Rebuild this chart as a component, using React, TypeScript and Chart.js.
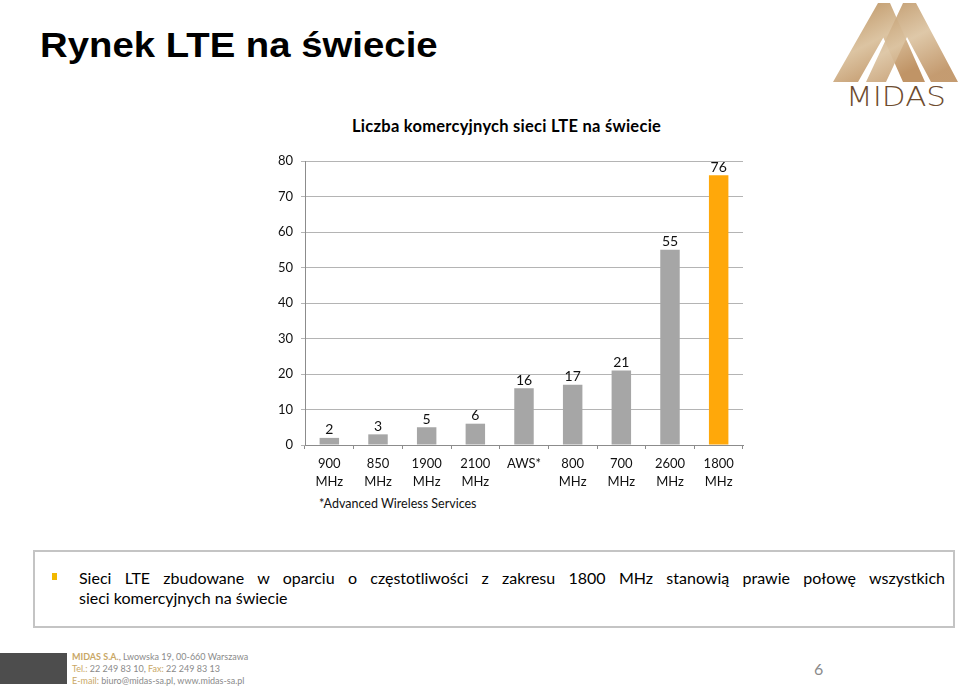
import React, { useEffect, useRef } from "react";
import { Chart, registerables } from "chart.js";

Chart.register(...registerables);

// ---- data ----
const categories: string[][] = [
  ["900", "MHz"],
  ["850", "MHz"],
  ["1900", "MHz"],
  ["2100", "MHz"],
  ["AWS*"],
  ["800", "MHz"],
  ["700", "MHz"],
  ["2600", "MHz"],
  ["1800", "MHz"],
];
const networkCounts: number[] = [2, 3, 5, 6, 16, 17, 21, 55, 76];
const highlighted: string = "1800";
const yMin = 0;
const yMax = 80;
const yStep = 10;

const GRAY = "#a6a6a6";
const ORANGE = "#ffa80a";
const FONT = "Lato, 'Open Sans', sans-serif";

const valueLabels = {
  id: "valueLabels",
  afterDatasetsDraw(chart: any) {
    const ctx = chart.ctx;
    const meta = chart.getDatasetMeta(0);
    const data = chart.data.datasets[0].data;
    ctx.save();
    ctx.font = `14px ${FONT}`;
    ctx.fillStyle = "#111";
    ctx.textAlign = "center";
    ctx.textBaseline = "bottom";
    meta.data.forEach((bar: any, i: number) => {
      ctx.fillText(String(data[i]), bar.x, bar.y - 1);
    });
    ctx.restore();
  },
};

function BarChart() {
  const ref = useRef<HTMLCanvasElement | null>(null);
  useEffect(() => {
    if (!ref.current) return;
    const chart = new Chart(ref.current, {
      type: "bar",
      data: {
        labels: categories,
        datasets: [
          {
            data: networkCounts,
            backgroundColor: categories.map((c) => (c[0] === highlighted ? ORANGE : GRAY)),
            barPercentage: 0.5,
            categoryPercentage: 0.8,
          },
        ],
      },
      options: {
        animation: false,
        responsive: false,
        devicePixelRatio: 1,
        layout: { padding: { top: 21, right: 17, left: 0, bottom: 0 } },
        plugins: { legend: { display: false }, tooltip: { enabled: false }, title: { display: false } },
        scales: {
          x: {
            offset: true,
            grid: { display: true, drawOnChartArea: false, drawTicks: true, tickLength: 4, color: "#8c8c8c" },
            border: { display: true, color: "#8c8c8c" },
            ticks: {
              padding: 6,
              color: "#111",
              font: { family: FONT, size: 13, lineHeight: 18 / 13 },
              maxRotation: 0,
              autoSkip: false,
            },
            afterFit: (s: any) => {
              s.height = 50;
            },
          },
          y: {
            min: yMin,
            max: yMax,
            grid: { color: "#b4b4b4", tickLength: 4, drawTicks: true },
            border: { display: true, color: "#8c8c8c" },
            ticks: {
              stepSize: yStep,
              padding: 8,
              color: "#111",
              font: { family: FONT, size: 13 },
            },
            afterFit: (s: any) => {
              s.width = 35;
            },
          },
        },
      },
      plugins: [valueLabels],
    });
    return () => chart.destroy();
  }, []);
  return <canvas ref={ref} width={490} height={355} style={{ width: 490, height: 355, display: "block" }} />;
}

function Logo() {
  return (
    <svg width={132} height={112} viewBox="828 0 132 112" style={{ position: "absolute", left: 828, top: 0 }}>
      <defs>
        <linearGradient id="gold" x1="0" y1="0" x2="0.6" y2="1">
          <stop offset="0" stopColor="#b98e5c" />
          <stop offset="0.55" stopColor="#dcc4a2" />
          <stop offset="1" stopColor="#c09466" />
        </linearGradient>
      </defs>
      <polygon points="833,82 878,3 890,3 925,82 903,82 883.3,37.6 858,82" fill="url(#gold)" />
      <polygon points="866,82 903,3 916,3 958,82 931,82 907,37 886,82" fill="url(#gold)" opacity={0.93} />
      <text
        x={846}
        y={106}
        textLength={100}
        lengthAdjust="spacingAndGlyphs"
        fontFamily="'DejaVu Sans', sans-serif"
        fontWeight={200}
        fontSize={26}
        fill="#6e4c2f"
      >
        MIDAS
      </text>
    </svg>
  );
}

export default function App() {
  return (
    <div style={{ position: "fixed", left: 0, top: 0, width: 960, height: 687, background: "#fff", overflow: "hidden", fontFamily: FONT }}>
      <div
        style={{
          position: "absolute",
          left: 40,
          top: 27,
          font: "bold 35px 'Liberation Sans', Arial, sans-serif",
          lineHeight: "35px",
          color: "#000",
          whiteSpace: "nowrap",
          transform: "scaleX(1.095)",
          transformOrigin: "left top",
        }}
      >
        Rynek LTE na świecie
      </div>
      <Logo />
      <div
        style={{
          position: "absolute",
          left: 352,
          top: 116,
          font: `bold 16.5px ${FONT}`,
          letterSpacing: "0.25px",
          lineHeight: "20px",
          color: "#000",
          whiteSpace: "nowrap",
        }}
      >
        Liczba komercyjnych sieci LTE na świecie
      </div>
      <div style={{ position: "absolute", left: 270, top: 140 }}>
        <BarChart />
      </div>
      <div style={{ position: "absolute", left: 319, top: 495, font: `12.5px ${FONT}`, lineHeight: "18px", color: "#111", whiteSpace: "nowrap" }}>
        *Advanced Wireless Services
      </div>
      <div
        style={{
          position: "absolute",
          left: 33,
          top: 550,
          width: 918,
          height: 74,
          border: "2px solid #c4c4c4",
        }}
      />
      <div style={{ position: "absolute", left: 52, top: 573, width: 5, height: 7, background: "#f2b800" }} />
      <div style={{ position: "absolute", left: 79, top: 568, width: 866, font: `16px ${FONT}`, lineHeight: "20px", color: "#000" }}>
        <div style={{ textAlign: "justify", textAlignLast: "justify", whiteSpace: "nowrap" }}>
          Sieci LTE zbudowane w oparciu o częstotliwości z zakresu 1800 MHz stanowią prawie połowę wszystkich
        </div>
        <div>sieci komercyjnych na świecie</div>
      </div>
      <div style={{ position: "absolute", left: 0, top: 653, width: 67, height: 31, background: "#4d4d4d" }} />
      <div style={{ position: "absolute", left: 72, top: 651, font: `9px ${FONT}`, lineHeight: "12px", color: "#8a8a8a", whiteSpace: "nowrap" }}>
        <div>
          <span style={{ color: "#c9a766", fontWeight: "bold" }}>MIDAS S.A.</span>, Lwowska 19, 00-660 Warszawa
        </div>
        <div>
          <span style={{ color: "#c9a766" }}>Tel.:</span> 22 249 83 10, <span style={{ color: "#c9a766" }}>Fax:</span>  22 249 83 13
        </div>
        <div>
          <span style={{ color: "#c9a766" }}>E-mail:</span> biuro@midas-sa.pl, www.midas-sa.pl
        </div>
      </div>
      <div style={{ position: "absolute", left: 814, top: 659, font: `16px ${FONT}`, lineHeight: "20px", color: "#8a8a8a" }}>6</div>
    </div>
  );
}
